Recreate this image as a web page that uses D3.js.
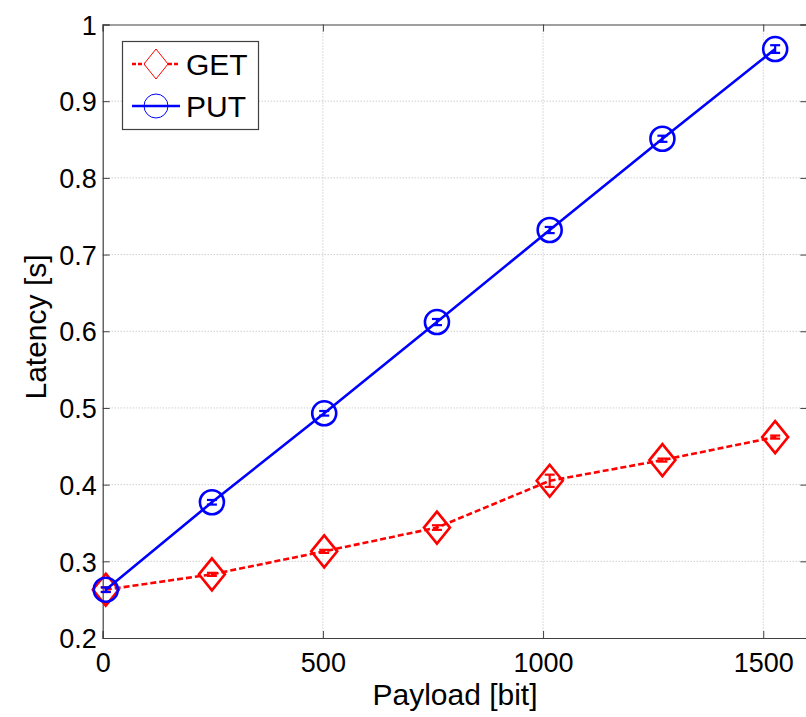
<!DOCTYPE html>
<html>
<head>
<title>Latency vs payload</title>
<script src="https://d3js.org/d3.v7.min.js"></script>
<style>
    body { margin: 0; background: #fff; }
    svg text { font-family: "Liberation Sans", Arial, sans-serif; fill: #000; }
</style>
</head>
<body>
<div id="chart"></div>
<script>
    // data
    var payload = [7, 248, 503, 759, 1015, 1271, 1527];
    var getLatency = [0.263, 0.283, 0.313, 0.344, 0.405, 0.432, 0.462];
    var getErr = [0.003, 0.002, 0.002, 0.003, 0.008, 0.002, 0.002];
    var putLatency = [0.263, 0.377, 0.493, 0.612, 0.732, 0.851, 0.968];
    var putErr = [0.003, 0.003, 0.003, 0.004, 0.004, 0.004, 0.005];
    var xTicks = [0, 500, 1000, 1500];
    var yTicks = [0.2, 0.3, 0.4, 0.5, 0.6, 0.7, 0.8, 0.9, 1];

    var margin = {top: 24.5, left: 102.7},
        width = 704.6,
        height = 613.5;

    var svg = d3.select("#chart").append("svg")
        .attr("width", 806)
        .attr("height", 717);

    var g = svg.append("g")
        .attr("transform", "translate(" + margin.left + "," + margin.top + ")");

    var x = d3.scaleLinear().domain([0, 1600]).range([0, width]);
    var y = d3.scaleLinear().domain([0.2, 1]).range([height, 0]);

    // dotted grid
    g.append("g").selectAll("line").data(xTicks.slice(1)).join("line")
        .attr("x1", d => x(d)).attr("x2", d => x(d))
        .attr("y1", 0).attr("y2", height)
        .attr("stroke", "#b8b8b8").attr("stroke-dasharray", "1,2");
    g.append("g").selectAll("line").data(yTicks.slice(1, -1)).join("line")
        .attr("x1", 0).attr("x2", width)
        .attr("y1", d => y(d)).attr("y2", d => y(d))
        .attr("stroke", "#b8b8b8").attr("stroke-dasharray", "1,2");

    // axes, ticks pointing inward
    var fmt = d => d3.format("")(d);
    var xAxis = g.append("g").attr("transform", "translate(0," + height + ")")
        .call(d3.axisBottom(x).tickValues(xTicks).tickSize(-7).tickPadding(15).tickFormat(fmt));
    var xTop = g.append("g")
        .call(d3.axisTop(x).tickValues(xTicks).tickSize(-7).tickFormat(""));
    var yAxis = g.append("g")
        .call(d3.axisLeft(y).tickValues(yTicks).tickSize(-7).tickPadding(6).tickFormat(fmt));
    var yRight = g.append("g").attr("transform", "translate(" + width + ",0)")
        .call(d3.axisRight(y).tickValues(yTicks).tickSize(-7).tickFormat(""));

    [xAxis, xTop, yAxis, yRight].forEach(function(a) {
        a.select(".domain").attr("stroke", "#404040").attr("stroke-width", 1.2);
        a.selectAll(".tick line").attr("stroke", "#404040");
        a.selectAll("text").style("font-size", "27px").attr("fill", "#000");
    });
    xAxis.selectAll("text").attr("dy", "0.71em");
    yAxis.selectAll("text").attr("dy", "0.36em");

    // axis titles
    svg.append("text")
        .attr("x", 455).attr("y", 705)
        .attr("text-anchor", "middle")
        .style("font-size", "30px")
        .text("Payload [bit]");
    svg.append("text")
        .attr("transform", "translate(46,327) rotate(-90)")
        .attr("text-anchor", "middle")
        .style("font-size", "30px")
        .text("Latency [s]");

    function diamond(sel, w, h) {
        sel.attr("d", "M0," + (-h) + "L" + w + ",0L0," + h + "L" + (-w) + ",0Z");
    }

    function drawSeries(vals, errs, color, dash, marker) {
        var pts = payload.map((p, i) => ({x: p, y: vals[i], e: errs[i]}));
        var line = d3.line().x(d => x(d.x)).y(d => y(d.y));
        g.append("path").datum(pts)
            .attr("d", line)
            .attr("fill", "none")
            .attr("stroke", color)
            .attr("stroke-width", 2.6)
            .attr("stroke-dasharray", dash);

        var m = g.append("g").selectAll("g").data(pts).join("g")
            .attr("transform", d => "translate(" + x(d.x) + "," + y(d.y) + ")");
        if (marker === "diamond") {
            m.append("path").call(diamond, 13, 16)
                .attr("fill", "none").attr("stroke", color).attr("stroke-width", 2.6);
        } else {
            m.append("circle").attr("r", 12)
                .attr("fill", "none").attr("stroke", color).attr("stroke-width", 2.6);
        }

        // error bars
        var eb = g.append("g").selectAll("g").data(pts).join("g")
            .attr("stroke", color).attr("stroke-width", 2.2);
        eb.append("line")
            .attr("x1", d => x(d.x)).attr("x2", d => x(d.x))
            .attr("y1", d => y(d.y - d.e)).attr("y2", d => y(d.y + d.e));
        eb.append("line")
            .attr("x1", d => x(d.x) - 5).attr("x2", d => x(d.x) + 5)
            .attr("y1", d => y(d.y - d.e)).attr("y2", d => y(d.y - d.e));
        eb.append("line")
            .attr("x1", d => x(d.x) - 5).attr("x2", d => x(d.x) + 5)
            .attr("y1", d => y(d.y + d.e)).attr("y2", d => y(d.y + d.e));
    }

    drawSeries(getLatency, getErr, "#ff0000", "6,3", "diamond");
    drawSeries(putLatency, putErr, "#0000ff", null, "circle");

    // legend
    var legend = svg.append("g");
    legend.append("rect")
        .attr("x", 122.5).attr("y", 41.5).attr("width", 136).attr("height", 88)
        .attr("fill", "#fff").attr("stroke", "#404040").attr("stroke-width", 1.2);

    var items = [
        {name: "GET", color: "#ff0000", dash: "4,2", marker: "diamond", y: 64},
        {name: "PUT", color: "#0000ff", dash: null, marker: "circle", y: 106}
    ];
    var li = legend.selectAll("g.item").data(items).join("g")
        .attr("class", "item")
        .attr("transform", d => "translate(0," + d.y + ")");
    li.append("line")
        .attr("x1", 132).attr("x2", 180)
        .attr("stroke", d => d.color).attr("stroke-width", 2.6)
        .attr("stroke-dasharray", d => d.dash);
    li.filter(d => d.marker === "diamond").append("path")
        .call(diamond, 12, 15)
        .attr("transform", "translate(156,0)")
        .attr("fill", "#fff").attr("stroke", d => d.color).attr("stroke-width", 1);
    li.filter(d => d.marker === "circle").append("circle")
        .attr("cx", 156).attr("r", 12)
        .attr("fill", "none").attr("stroke", d => d.color).attr("stroke-width", 1);
    li.append("text")
        .attr("x", 186).attr("y", 11)
        .style("font-size", "30px")
        .text(d => d.name);
</script>
</body>
</html>
